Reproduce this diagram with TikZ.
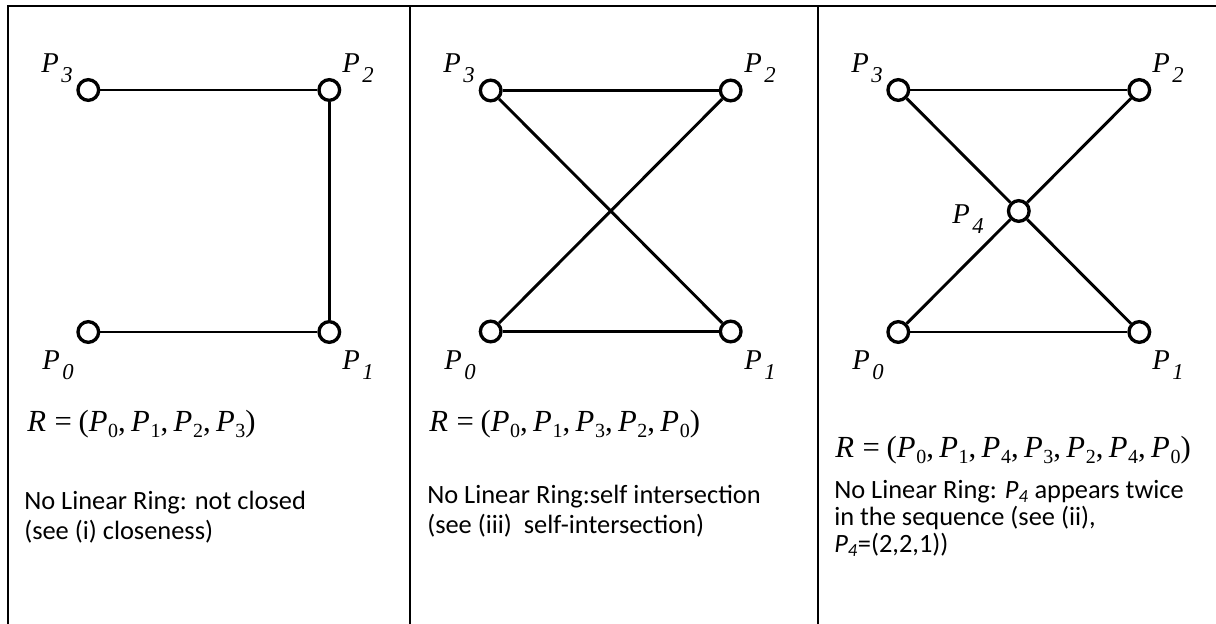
\documentclass[tikz,border=0pt]{standalone}
\usepackage{fontspec}
\setmainfont{Liberation Serif}
\newfontfamily\calib{Carlito}
\newcommand\ptlab[1]{\textit{P}\kern2pt\raisebox{-7.5pt}{\fontsize{17}{17}\selectfont\textit{#1}}}
\newcommand\eqp[1]{\textit{P}\kern0.5pt\raisebox{-5pt}{\fontsize{15}{15}\selectfont #1}}
\newcommand\cm{,\kern4pt}
\newcommand\eqstart{\textit{R}\kern6.5pt=\kern5pt(}
\newcommand\bodyp[1]{\textit{P\textsubscript{#1}}}
\tikzset{
  border/.style={line width=1.5pt},
  vtx/.style={circle,draw,fill=white,line width=2.5pt,minimum size=15.5pt,inner sep=0pt},
  seg/.style={line width=2.2pt},
  lbl/.style={anchor=base west,inner sep=0pt,font=\fontsize{21.5}{21.5}\selectfont},
  eqn/.style={anchor=base west,inner sep=0pt,font=\fontsize{23}{23}\selectfont},
  note/.style={anchor=base west,inner sep=0pt,font=\calib\fontsize{19.8}{24}\selectfont},
}
\begin{document}
\begin{tikzpicture}[x=0.75pt,y=-0.75pt]
\useasboundingbox (0,0) rectangle (1216,624);
% frame
\draw[border] (7.5,624) -- (7.5,5.7) -- (1216,5.7);
\draw[border] (410,5.7) -- (410,624);
\draw[border] (817.5,5.7) -- (817.5,624);
% panel 1
\node[vtx] (a0) at (88.3,332) {};
\node[vtx] (a1) at (329.3,332) {};
\node[vtx] (a2) at (329.3,90) {};
\node[vtx] (a3) at (88.3,90) {};
\draw[seg] (a0) -- (a1);
\draw[seg] (a1) -- (a2);
\draw[seg] (a2) -- (a3);
\node[lbl] (la3) at (41,73) {\ptlab{3}};
\node[lbl] (la2) at (342,73) {\ptlab{2}};
\node[lbl] (la0) at (42,369) {\ptlab{0}};
\node[lbl] (la1) at (342,369) {\ptlab{1}};
\node[eqn] (ea) at (27,431) {\eqstart\eqp{0}\cm\eqp{1}\cm\eqp{2}\cm\eqp{3})};
\node[note] (ta1) at (24,509) {No Linear Ring: not closed};
\node[note] (ta2) at (24,539) {(see (i) closeness)};
% panel 2
\node[vtx] (b0) at (490.7,331.5) {};
\node[vtx] (b1) at (730.7,331.5) {};
\node[vtx] (b2) at (730.7,90.5) {};
\node[vtx] (b3) at (490.7,90.5) {};
\draw[seg] (b0) -- (b1);
\draw[seg] (b1) -- (b3);
\draw[seg] (b3) -- (b2);
\draw[seg] (b2) -- (b0);
\node[lbl] (lb3) at (443,73) {\ptlab{3}};
\node[lbl] (lb2) at (744,73) {\ptlab{2}};
\node[lbl] (lb0) at (444,369) {\ptlab{0}};
\node[lbl] (lb1) at (744,369) {\ptlab{1}};
\node[eqn] (eb) at (429,431) {\eqstart\eqp{0}\cm\eqp{1}\cm\eqp{3}\cm\eqp{2}\cm\eqp{0})};
\node[note] (tb1) at (427,503) {No Linear Ring:self intersection};
\node[note] (tb2) at (427,533) {(see (iii)\ \ self-intersection)};
% panel 3
\node[vtx] (c0) at (898.3,332) {};
\node[vtx] (c1) at (1139.3,332) {};
\node[vtx] (c2) at (1139.3,90) {};
\node[vtx] (c3) at (898.3,90) {};
\node[vtx] (c4) at (1018.8,211) {};
\draw[seg] (c0) -- (c1);
\draw[seg] (c1) -- (c4);
\draw[seg] (c4) -- (c3);
\draw[seg] (c3) -- (c2);
\draw[seg] (c2) -- (c4);
\draw[seg] (c4) -- (c0);
\node[lbl] (lc3) at (851,73) {\ptlab{3}};
\node[lbl] (lc2) at (1152,73) {\ptlab{2}};
\node[lbl] (lc4) at (952,223) {\ptlab{4}};
\node[lbl] (lc0) at (852,369) {\ptlab{0}};
\node[lbl] (lc1) at (1152,369) {\ptlab{1}};
\node[eqn] (ec) at (835,457) {\eqstart\eqp{0}\cm\eqp{1}\cm\eqp{4}\cm\eqp{3}\cm\eqp{2}\cm\eqp{4}\cm\eqp{0})};
\node[note] (tc1) at (834,498) {No Linear Ring: \bodyp{4} appears twice};
\node[note] (tc2) at (834,525) {in the sequence (see (ii),};
\node[note] (tc3) at (834,552) {\bodyp{4}=(2,2,1))};
\end{tikzpicture}
\end{document}
